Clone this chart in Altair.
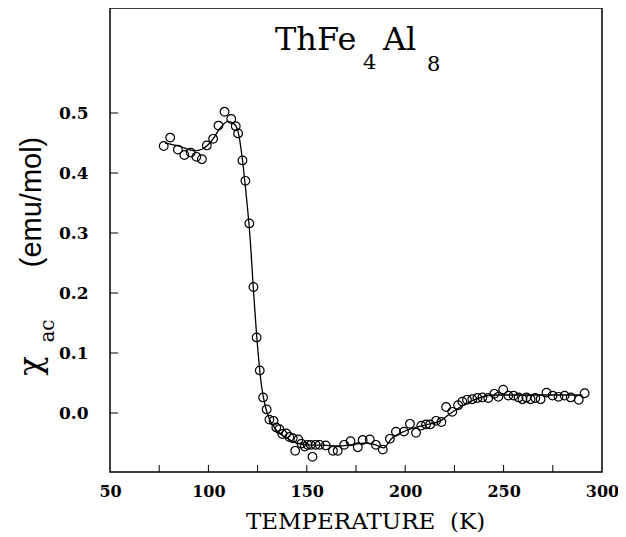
import altair as alt
import pandas as pd

# measured points: temperature (K) and chi_ac (emu/mol)
temps = [77.3, 80.6, 84.5, 87.8, 91.0, 93.9, 96.7, 99.2, 102.4, 105.1, 108.2, 111.6,
         113.9, 115.1, 117.3, 118.8, 120.8, 122.9, 124.5, 126.1, 127.8, 129.6, 131.0,
         133.1, 134.5, 136.1, 137.6, 139.6, 141.2, 142.9, 144.1, 145.7, 147.3, 149.0,
         150.4, 152.0, 152.9, 154.5, 156.5, 159.6, 163.3, 165.7, 169.0, 172.2, 175.9,
         178.4, 182.0, 185.1, 188.6, 192.2, 195.3, 199.4, 202.4, 205.5, 208.2, 210.6,
         212.7, 215.7, 218.4, 220.8, 223.9, 226.9, 229.0, 231.4, 234.1, 236.7, 239.2,
         242.2, 245.3, 247.3, 249.8, 252.4, 255.1, 257.6, 259.6, 261.6, 263.7, 266.1,
         268.8, 271.8, 274.9, 277.9, 281.0, 284.1, 288.2, 291.2]
chi = [0.445, 0.459, 0.439, 0.430, 0.434, 0.427, 0.423, 0.446, 0.457, 0.479, 0.502, 0.490,
       0.478, 0.466, 0.421, 0.387, 0.316, 0.210, 0.126, 0.071, 0.026, 0.006, -0.011,
       -0.013, -0.024, -0.027, -0.035, -0.034, -0.040, -0.042, -0.063, -0.044, -0.051, -0.056,
       -0.053, -0.053, -0.073, -0.053, -0.053, -0.054, -0.063, -0.063, -0.053, -0.047, -0.057,
       -0.045, -0.044, -0.053, -0.061, -0.043, -0.031, -0.031, -0.018, -0.033, -0.021, -0.019,
       -0.019, -0.013, -0.015, 0.010, 0.002, 0.013, 0.019, 0.022, 0.023, 0.025, 0.026,
       0.025, 0.032, 0.027, 0.039, 0.029, 0.029, 0.026, 0.023, 0.026, 0.023, 0.025,
       0.023, 0.034, 0.029, 0.027, 0.029, 0.026, 0.022, 0.033]

# smooth guide curve drawn through the data
fit_t = [78, 85, 93, 97, 102, 106, 110, 113, 115, 117, 119, 121, 123, 125, 127, 129, 131,
         135, 140, 145, 150, 160, 165, 175, 180, 185, 189, 193, 200, 210, 218, 222, 228,
         235, 245, 255, 270, 290]
fit_chi = [0.450, 0.445, 0.437, 0.440, 0.455, 0.475, 0.486, 0.482, 0.470, 0.430, 0.370,
           0.300, 0.200, 0.110, 0.045, 0.010, -0.010, -0.030, -0.042, -0.050, -0.053,
           -0.054, -0.055, -0.052, -0.050, -0.053, -0.058, -0.043, -0.030, -0.020, -0.013,
           -0.003, 0.010, 0.022, 0.030, 0.030, 0.030, 0.030]

x_ticks = [75, 100, 125, 150, 175, 200, 225, 250, 275]
y_ticks = [0.0, 0.1, 0.2, 0.3, 0.4, 0.5]
x_labels = [50, 100, 150, 200, 250, 300]

W, H = 492, 464
SERIF = "DejaVu Serif"

pts = pd.DataFrame({"T": temps, "chi": chi})
fit = pd.DataFrame({"T": fit_t, "chi": fit_chi})

xs = alt.Scale(domain=[50, 300], nice=False, zero=False)
ys = alt.Scale(domain=[-0.0983, 0.675], nice=False, zero=False)

xaxis = alt.Axis(values=x_labels, ticks=False, domain=False, grid=False,
                 labelFont=SERIF, labelFontSize=16, labelFontWeight="bold",
                 labelColor="black", labelPadding=11, labelFlush=False,
                 title="TEMPERATURE\u00a0\u00a0(K)", titleFont=SERIF, titleFontSize=23,
                 titleFontWeight="normal", titleColor="black", titlePadding=11,
                 titleX=255, titleAlign="center")
yaxis = alt.Axis(values=y_ticks, format=".1f", ticks=False, domain=False, grid=False,
                 labelFont=SERIF, labelFontSize=17, labelFontWeight="bold",
                 labelColor="black", labelPadding=22, title=None)

line = alt.Chart(fit).mark_line(color="black", strokeWidth=1.3, interpolate="monotone").encode(
    x=alt.X("T:Q", scale=xs, axis=xaxis),
    y=alt.Y("chi:Q", scale=ys, axis=yaxis),
)
points = alt.Chart(pts).mark_point(shape="circle", filled=False, size=75, color="black",
                                   strokeWidth=1.2, opacity=1).encode(
    x=alt.X("T:Q", scale=xs),
    y=alt.Y("chi:Q", scale=ys),
)
xt = alt.Chart(pd.DataFrame({"T": x_ticks})).mark_rule(color="black", strokeWidth=1).encode(
    x=alt.X("T:Q", scale=xs), y=alt.value(H), y2=alt.value(H - 7))
yt = alt.Chart(pd.DataFrame({"v": y_ticks})).mark_rule(color="black", strokeWidth=1).encode(
    y=alt.Y("v:Q", scale=ys), x=alt.value(0), x2=alt.value(8))

def txt(s, x, y, size, font=SERIF, angle=0, align="left", baseline="alphabetic"):
    return alt.Chart(pd.DataFrame({"t": [s]})).mark_text(
        font=font, fontSize=size, color="black", align=align, baseline=baseline,
        angle=angle).encode(text="t:N", x=alt.value(x), y=alt.value(y))

title_parts = [
    txt("ThFe", 165, 42, 32),
    txt("4", 253, 61, 21),
    txt("Al", 273, 42, 32),
    txt("8", 317, 63, 21),
]
ylab_parts = [
    txt("\u03c7", -79, 358, 32, font=SERIF, angle=270, align="center", baseline="middle"),
    txt("ac", -62, 323, 20, font=SERIF, angle=270, align="center", baseline="middle"),
    txt("(emu/mol)", -78, 194, 29, font="Liberation Sans", angle=270, align="center",
        baseline="middle"),
]

chart = alt.layer(line, points, xt, yt, *title_parts, *ylab_parts).properties(
    width=W, height=H,
    padding={"left": 102, "top": 0, "right": 16, "bottom": 64},
    autosize=alt.AutoSizeParams(type="none"),
    background="white",
).configure_view(stroke="black", strokeWidth=1.5)

chart.save("out.html", embed_options={"renderer": "svg", "actions": False})
